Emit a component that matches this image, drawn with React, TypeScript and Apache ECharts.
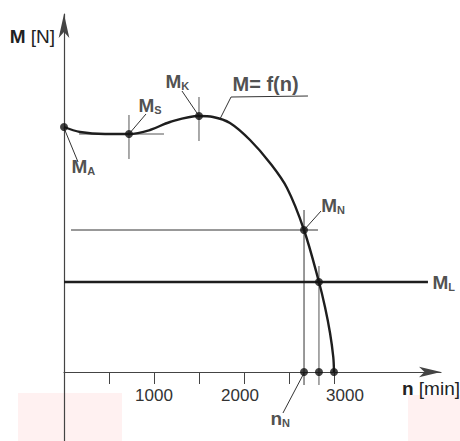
import React, { useEffect, useRef } from "react";
import * as echarts from "echarts";

// torque curve M = f(n)
const CURVE_N = [0, 178, 456, 722, 956, 1178, 1500, 1656, 1844, 2067, 2289, 2478, 2667, 2833, 2900, 2956, 2992, 3000];
const CURVE_M = [245, 240, 238, 238, 242, 250, 256, 255, 249, 232, 209, 184, 142, 90, 65, 39, 15, 0];

// marked points (M_A, M_S, M_K, M_N, load point, n_N, n_L, n_0)
const POINT_N = [0, 722, 1500, 2667, 2833, 2667, 2833, 3000];
const POINT_M = [245, 238, 256, 142, 90, 0, 0, 0];

// load torque line M_L
const LOAD_LINE_N = [0, 4044];
const LOAD_M = 90;
const LOAD_N = 2833;
const LOAD_DROP_M = [106, -13];

// rated point guides
const RATED_LINE_N = [78, 2822];
const RATED_M = 142;
const RATED_N = 2667;
const RATED_DROP_M = [162, -13];

// saddle / breakdown crosshairs
const SADDLE_N = 722;
const SADDLE_M = 238;
const SADDLE_H_N = [167, 1111];
const SADDLE_V_M = [257, 213];
const PEAK_N = 1500;
const PEAK_V_M = [275, 231];

// leader lines [n, M]
const LEADERS: number[][][] = [
  [[0, 244], [156, 210]],
  [[722, 238], [911, 258]],
  [[1500, 256], [1311, 281]],
  [[1733, 253], [1856, 275], [2711, 276]],
  [[2667, 142], [2856, 161]],
  [[2667, -1], [2433, -41]],
];

// annotation labels
const LABEL_MAIN = ["M", "M", "M", "M= f(n)", "M", "M", "n"];
const LABEL_SUB = ["A", "S", "K", "", "N", "L", "N"];
const LABEL_N = [78, 822, 1122, 1867, 2852, 4089, 2289];
const LABEL_M = [206, 267, 291, 288, 167, 90, -46];

// axis ticks
const X_TICKS = [500, 1000, 1500, 2000, 2500, 3000];
const X_LABELS = [1000, 2000, 3000];
const Y_MIN = -69;

const FONT = "'Liberation Sans', Arial, Helvetica, sans-serif";
const INK = "#1e1e1e";
const THIN = "#333";

export default function App() {
  const ref = useRef<HTMLDivElement>(null);

  useEffect(() => {
    if (!ref.current) return;
    const chart = echarts.init(ref.current, null, { renderer: "svg" });

    const seg = (pts: number[][], width: number, color: string, z = 2) => ({
      type: "line",
      data: pts,
      symbol: "none",
      silent: true,
      clip: false,
      z,
      lineStyle: { width, color },
    });

    const series: any[] = [];
    series.push(seg([[RATED_LINE_N[0], RATED_M], [RATED_LINE_N[1], RATED_M]], 1, THIN));
    series.push(seg([[RATED_N, RATED_DROP_M[0]], [RATED_N, RATED_DROP_M[1]]], 1, THIN));
    series.push(seg([[LOAD_N, LOAD_DROP_M[0]], [LOAD_N, LOAD_DROP_M[1]]], 1, "#555"));
    series.push(seg([[SADDLE_H_N[0], SADDLE_M], [SADDLE_H_N[1], SADDLE_M]], 1, "#555"));
    series.push(seg([[SADDLE_N, SADDLE_V_M[0]], [SADDLE_N, SADDLE_V_M[1]]], 1, "#555"));
    series.push(seg([[PEAK_N, PEAK_V_M[0]], [PEAK_N, PEAK_V_M[1]]], 1, "#555"));
    LEADERS.forEach((l) => series.push(seg(l, 1, THIN)));
    series.push(seg([[LOAD_LINE_N[0], LOAD_M], [LOAD_LINE_N[1], LOAD_M]], 2.4, INK, 3));
    series.push({
      type: "line",
      data: CURVE_N.map((n, i) => [n, CURVE_M[i]]),
      smooth: 0.35,
      symbol: "none",
      z: 4,
      lineStyle: { width: 2.4, color: INK },
    });
    series.push({
      type: "scatter",
      data: POINT_N.map((n, i) => [n, POINT_M[i]]),
      symbolSize: 8,
      z: 5,
      itemStyle: { color: "#111" },
    });
    series.push({
      type: "scatter",
      clip: false,
      symbolSize: 1,
      z: 6,
      itemStyle: { color: "transparent" },
      data: LABEL_N.map((n, i) => ({
        value: [n, LABEL_M[i]],
        label: {
          formatter: LABEL_SUB[i]
            ? `{m|${LABEL_MAIN[i]}}{s|${LABEL_SUB[i]}}`
            : `{t|${LABEL_MAIN[i]}}`,
        },
      })),
      label: {
        show: true,
        position: "right",
        distance: 0,
        color: "#222",
        rich: {
          m: { fontSize: 19, fontWeight: "bold", lineHeight: 20, verticalAlign: "bottom", color: "#222", fontFamily: FONT },
          s: { fontSize: 11, fontWeight: "bold", lineHeight: 10, verticalAlign: "bottom", color: "#222", fontFamily: FONT },
          t: { fontSize: 20, fontWeight: "bold", lineHeight: 20, color: "#222", fontFamily: FONT },
        },
      },
    });

    chart.setOption({
      animation: false,
      textStyle: { fontFamily: FONT },
      grid: { left: 64, right: 19, top: 14, bottom: 0, containLabel: false, outerBoundsMode: "none" },
      graphic: [
        { type: "rect", z: -10, shape: { x: 18, y: 393, width: 104, height: 48 }, style: { fill: "#fff1f1" } },
        { type: "rect", z: -10, shape: { x: 408, y: 395, width: 52, height: 46 }, style: { fill: "#fff1f1" } },
      ],
      xAxis: {
        type: "value",
        position: "bottom",
        min: 0,
        max: 4189,
        offset: Y_MIN,
        splitLine: { show: false },
        axisLine: {
          show: true,
          onZero: false,
          symbol: ["none", "arrow"],
          symbolSize: [8, 22],
          lineStyle: { color: "#444", width: 1.2 },
        },
        axisTick: { show: true, inside: false, customValues: X_TICKS, length: 12, lineStyle: { color: "#444", width: 1 } },
        axisLabel: {
          show: true,
          inside: false,
          customValues: X_LABELS,
          margin: 15,
          fontSize: 17,
          color: "#333",
          fontFamily: FONT,
          formatter: (v: number) => (v === 2000 ? `{l|${v}}` : v === 3000 ? `{r|${v}}` : `${v}`),
          rich: {
            l: { fontSize: 17, color: "#333", fontFamily: FONT, padding: [0, 8, 0, 0] },
            r: { fontSize: 17, color: "#333", fontFamily: FONT, padding: [0, 0, 0, 22] },
          },
        },
        name: "{b|n} [min]",
        nameLocation: "end",
        nameGap: 19,
        nameMoveOverlap: false,
        nameTextStyle: {
          fontSize: 19,
          color: "#222",
          align: "right",
          verticalAlign: "top",
          padding: [7, 0, 0, 0],
          fontFamily: FONT,
          rich: { b: { fontSize: 19, fontWeight: "bold", color: "#222", fontFamily: FONT } },
        },
      },
      yAxis: {
        type: "value",
        min: Y_MIN,
        max: 358,
        splitLine: { show: false },
        axisTick: { show: false },
        axisLabel: { show: false },
        axisLine: {
          show: true,
          onZero: true,
          symbol: ["none", "arrow"],
          symbolSize: [8, 24],
          lineStyle: { color: "#444", width: 1.2 },
        },
        name: "{b|M} [N]",
        nameLocation: "end",
        nameGap: -22,
        nameMoveOverlap: false,
        nameTextStyle: {
          fontSize: 19,
          color: "#222",
          align: "right",
          verticalAlign: "middle",
          padding: [0, 9, 0, 0],
          fontFamily: FONT,
          rich: { b: { fontSize: 19, fontWeight: "bold", color: "#222", fontFamily: FONT } },
        },
      },
      series,
    });

    return () => chart.dispose();
  }, []);

  return (
    <div
      ref={ref}
      style={{ position: "fixed", left: 0, top: 0, width: 460, height: 441, background: "#fff" }}
    />
  );
}
